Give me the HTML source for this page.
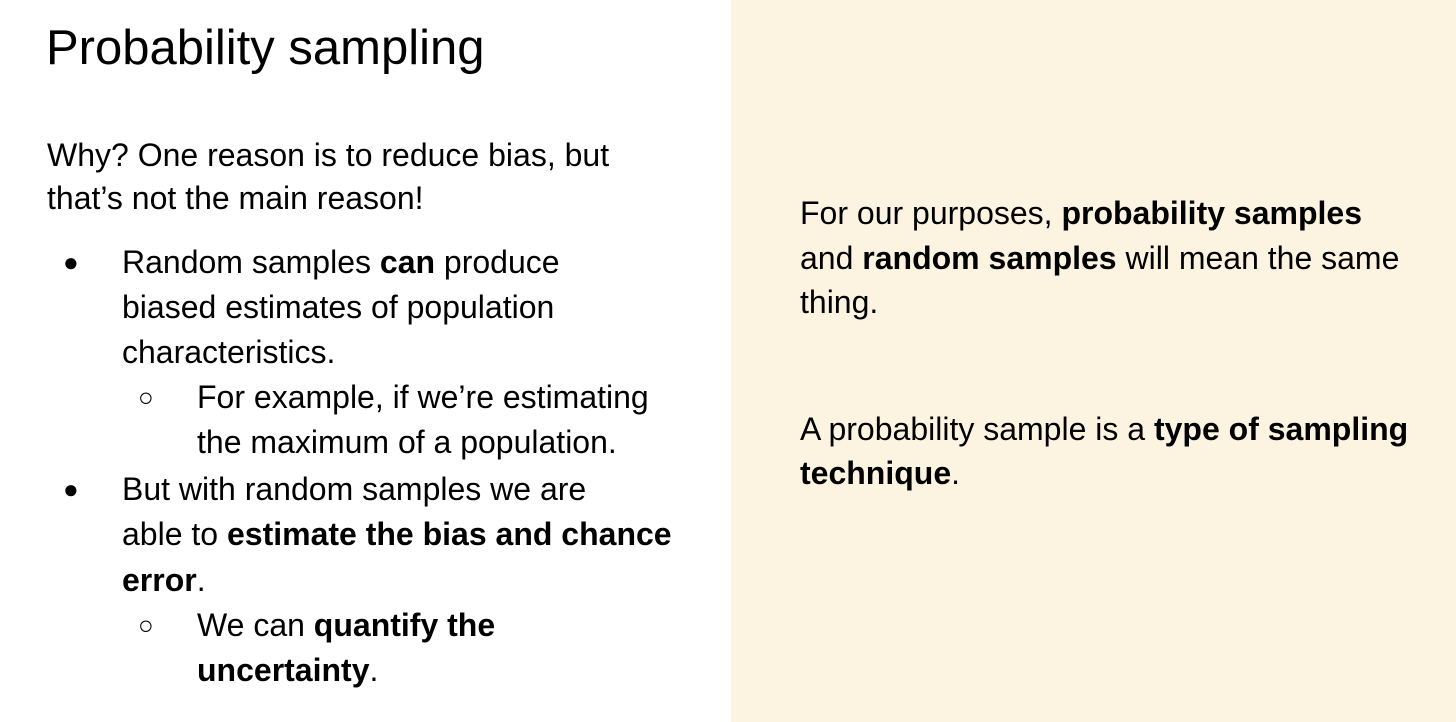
<!DOCTYPE html>
<html><head><meta charset="utf-8"><style>
body{margin:0;width:1456px;height:722px;overflow:hidden;background:#fff;font-family:"Liberation Sans",sans-serif;color:#000;position:relative}
.l{position:absolute;white-space:nowrap;font-size:32px;line-height:44px;height:44px}
b{font-weight:bold}
#right{position:absolute;left:731px;top:0;width:725px;height:722px;background:#fcf4e1}
.bul{position:absolute;font-size:26px;line-height:44px}
</style></head><body>
<div id="right"></div>
<div class="l" style="left:46px;top:22px;font-size:49px;line-height:52px;height:52px">Probability sampling</div>

<div class="l" style="left:47px;top:133px">Why? One reason is to reduce bias, but</div>
<div class="l" style="left:47px;top:176px">that’s not the main reason!</div>

<div class="bul" style="left:63px;top:240px">●</div>
<div class="l" style="left:122px;top:240px">Random samples <b>can</b> produce</div>
<div class="l" style="left:122px;top:285px">biased estimates of population</div>
<div class="l" style="left:122px;top:330px">characteristics.</div>

<div class="bul" style="left:138px;top:375px">○</div>
<div class="l" style="left:197px;top:375px">For example, if we’re estimating</div>
<div class="l" style="left:197px;top:420px">the maximum of a population.</div>

<div class="bul" style="left:63px;top:467px">●</div>
<div class="l" style="left:122px;top:467px">But with random samples we are</div>
<div class="l" style="left:122px;top:512px">able to <b>estimate the bias and chance</b></div>
<div class="l" style="left:122px;top:558px"><b>error</b>.</div>

<div class="bul" style="left:138px;top:603px">○</div>
<div class="l" style="left:197px;top:603px">We can <b>quantify the</b></div>
<div class="l" style="left:197px;top:648px"><b>uncertainty</b>.</div>

<div class="l" style="left:800px;top:191px">For our purposes, <b>probability samples</b></div>
<div class="l" style="left:800px;top:236px">and <b>random samples</b> will mean the same</div>
<div class="l" style="left:800px;top:280px">thing.</div>

<div class="l" style="left:800px;top:407px">A probability sample is a <b>type of sampling</b></div>
<div class="l" style="left:800px;top:451px"><b>technique</b>.</div>
</body></html>
